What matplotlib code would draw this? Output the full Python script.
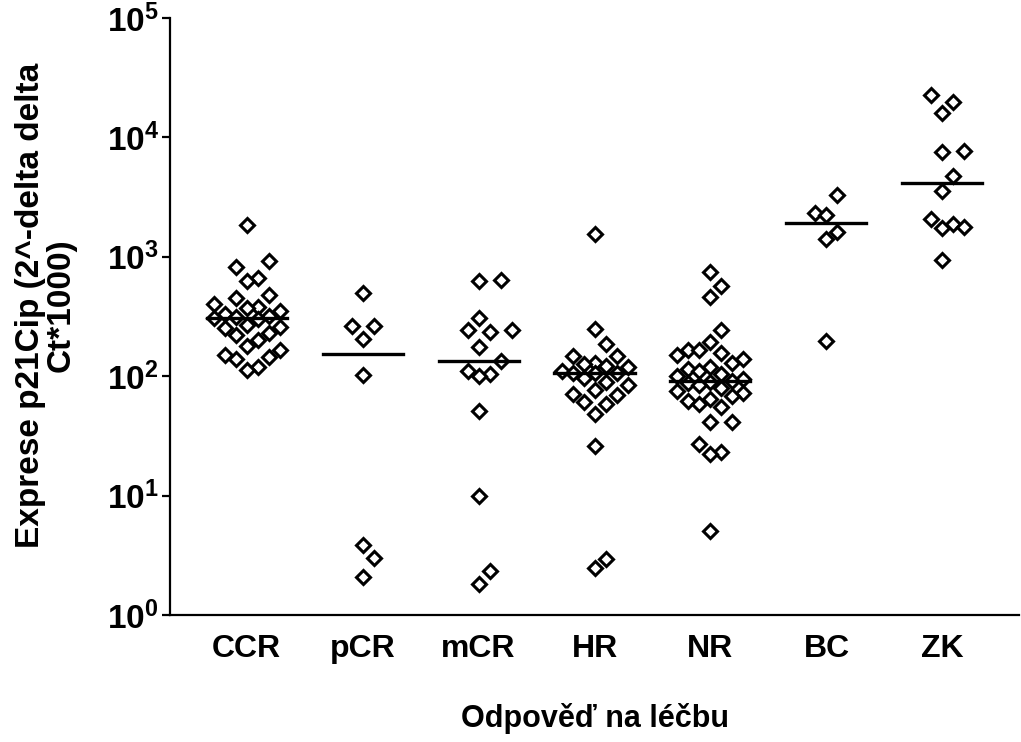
import numpy as np
import matplotlib
matplotlib.use("Agg")
import matplotlib.pyplot as plt
from matplotlib.ticker import FixedLocator, FuncFormatter, NullLocator

plt.rcParams['font.family'] = ['Liberation Sans', 'DejaVu Sans']
plt.rcParams['font.weight'] = 'bold'
plt.rcParams['mathtext.fontset'] = 'custom'
plt.rcParams['mathtext.rm'] = 'Liberation Sans:bold'
plt.rcParams['mathtext.bf'] = 'Liberation Sans:bold'
plt.rcParams['mathtext.it'] = 'Liberation Sans:bold'

# ---- data ----
categories = ["CCR", "pCR", "mCR", "HR", "NR", "BC", "ZK"]
CCR = [1840, 920, 820, 660, 630, 480, 450, 400, 380, 375, 350, 330, 320, 315, 310,
       300, 270, 260, 255, 230, 220, 200, 180, 165, 150, 145, 138, 120, 113]
pCR = [497, 264, 264, 205, 103, 3.84, 2.99, 2.08]
mCR = [640, 626, 307, 244, 244, 235, 176, 133, 111, 105, 101, 51, 10, 2.33, 1.82]
HR = [1545, 249, 186, 148, 148, 130, 127, 122, 120, 110, 107, 107, 106, 97,
      90, 85, 77, 71, 69, 61, 58, 48, 26, 2.93, 2.47]
NR = [743, 567, 460, 244, 194, 166, 166, 155, 150, 140, 130, 120, 115, 110, 105,
      100, 95, 92, 90, 88, 85, 80, 75, 72, 68, 65, 62, 58, 55, 41.5, 41.5, 27,
      23.4, 22.5, 5.1]
BC = [3270, 2310, 2220, 1600, 1400, 198]
ZK = [22700, 19900, 16100, 7760, 7590, 4710, 3530, 2060, 1900, 1770, 1730, 937]
groups = [CCR, pCR, mCR, HR, NR, BC, ZK]
ytick_exps = [0, 1, 2, 3, 4, 5]

xlabel = "Odpověď na léčbu"
ylabel = "Exprese p21Cip (2^-delta delta\nCt*1000)"

# ---- figure ----
fig = plt.figure(figsize=(10.21, 7.42), dpi=100)
ax = fig.add_axes([170 / 1021, (742 - 615) / 742, (1019 - 170) / 1021, (615 - 18) / 742])
ax.set_yscale('log')
ax.set_ylim(1, 1e5)
ax.set_xlim(-0.66, len(categories) - 1 + 0.66)

for s in ['top', 'right']:
    ax.spines[s].set_visible(False)
for s in ['left', 'bottom']:
    ax.spines[s].set_linewidth(1.6)

ax.yaxis.set_major_locator(FixedLocator([10.0 ** e for e in ytick_exps]))
ax.yaxis.set_minor_locator(NullLocator())
ax.yaxis.set_major_formatter(FuncFormatter(lambda v, p: r'$\mathbf{10^{%d}}$' % round(np.log10(v))))
ax.tick_params(axis='y', labelsize=24, length=6, width=1.6, pad=2)
ax.set_xticks(range(len(categories)))
ax.set_xticklabels(categories, fontsize=23, fontweight='bold')
ax.tick_params(axis='x', length=0, pad=14)


def swarm_offsets(vals, xpos, step_px=11.0, need=13.0, stack=21.0, kmax=3):
    """Column-scatter layout on a lattice of horizontal slots, limited width."""
    vals = np.asarray(vals, dtype=float)
    pts = ax.transData.transform(np.column_stack([np.full(len(vals), xpos), vals]))
    ys = pts[:, 1]
    order = np.argsort(vals)
    placed = []
    offs = np.zeros(len(vals))
    cands = [0]
    for k in range(1, kmax + 1):
        cands += [k, -k]

    def clearance(dx, y):
        best = np.inf
        for px, py in placed:
            adx, ady = abs(dx - px), abs(y - py)
            c = adx + ady if adx >= 1 else ady * need / stack
            best = min(best, c)
        return best

    for i in order:
        y = ys[i]
        chosen, best_c = None, -1.0
        for k in cands:
            dx = k * step_px
            c = clearance(dx, y)
            if c >= need:
                chosen = dx
                break
            if c > best_c + 0.5:
                best_c, best_dx = c, dx
        if chosen is None:
            chosen = best_dx
        placed.append((chosen, y))
        offs[i] = chosen
    ppu = ax.transData.transform((1, 1))[0] - ax.transData.transform((0, 1))[0]
    return offs / ppu


for i, vals in enumerate(groups):
    offs = swarm_offsets(vals, i)
    ax.plot(i + offs, vals, linestyle='none', marker='D', markersize=7,
            markerfacecolor='white', markeredgecolor='black', markeredgewidth=2.2,
            zorder=3)
    med = np.median(vals)
    ax.plot([i - 0.345, i + 0.345], [med, med], color='black', linewidth=2.4, zorder=4)

fig.text(595 / 1021, (742 - 718) / 742, xlabel, ha='center', va='center',
         fontsize=22, fontweight='bold')
fig.text(46 / 1021, (742 - 305) / 742, ylabel, ha='center', va='center',
         rotation=90, fontsize=24, fontweight='bold', multialignment='center',
         linespacing=1.0)

fig.savefig("out.png", dpi=100)
